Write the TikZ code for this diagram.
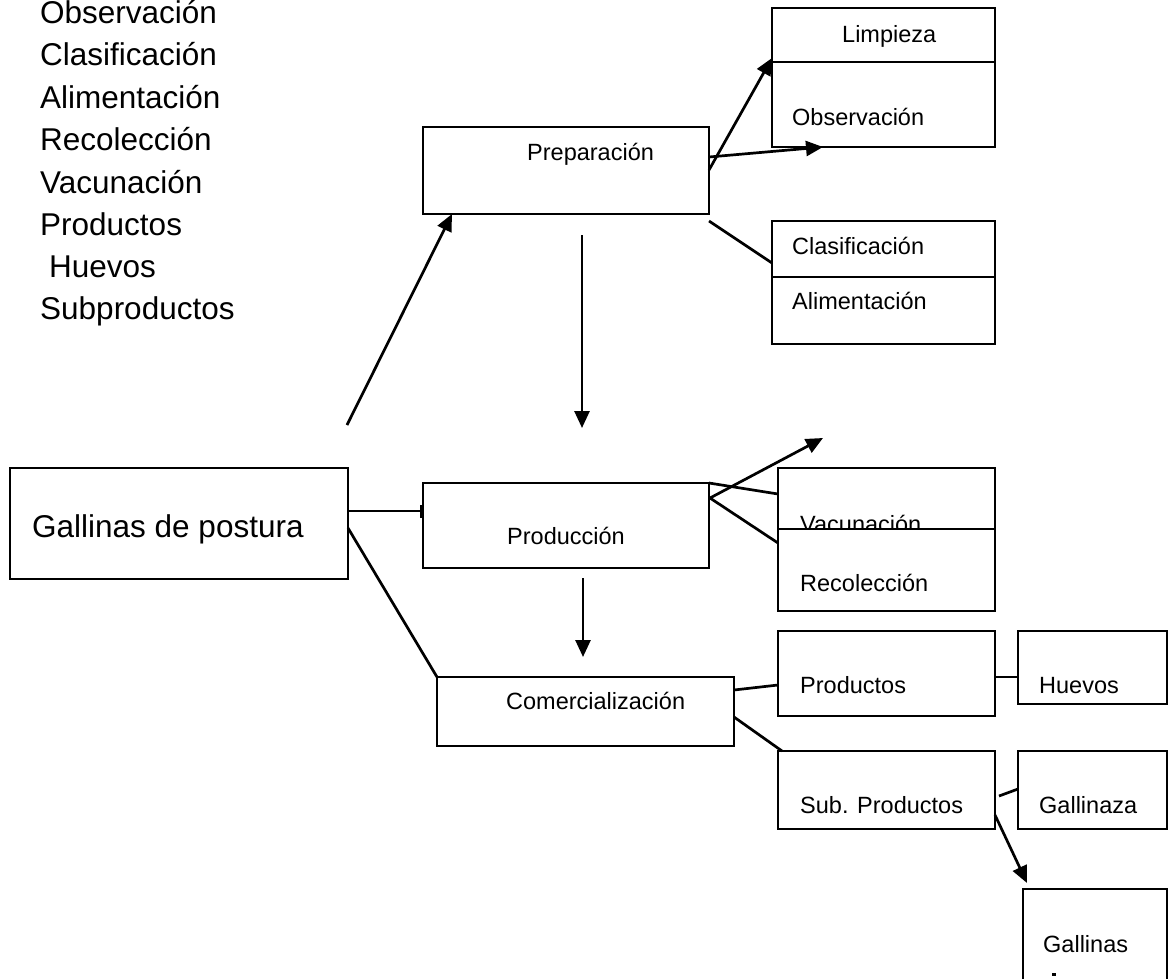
\documentclass[tikz,border=0pt]{standalone}
\usepackage{fontspec}
\setmainfont{Liberation Sans}
\usetikzlibrary{arrows.meta}
\begin{document}
\begin{tikzpicture}[x=1pt,y=-1pt,
  boxn/.style={draw, line width=2pt, inner sep=0, outer sep=0, anchor=north west, fill=white},
  txt/.style={font=\fontsize{23.5}{28}\selectfont, inner sep=0, anchor=base west},
  bigtxt/.style={font=\fontsize{31.5}{38}\selectfont, inner sep=0, anchor=base west},
  conn/.style={line width=2.7pt},
  arr/.style={line width=2.7pt, -{Triangle[length=17pt,width=15pt]}},
  bararr/.style={line width=2.7pt, -{Bar[width=13pt,line width=3.5pt]}}]
\useasboundingbox (0,0) rectangle (1169,978);
% left list
\node[bigtxt] (l1) at (40,23) {Observación};
\node[bigtxt] (l2) at (40,65) {Clasificación};
\node[bigtxt] (l3) at (40,108) {Alimentación};
\node[bigtxt] (l4) at (40,150) {Recolección};
\node[bigtxt] (l5) at (40,193) {Vacunación};
\node[bigtxt] (l6) at (40,235) {Productos};
\node[bigtxt] (l7) at (49,277) {Huevos};
\node[bigtxt] (l8) at (40,319) {Subproductos};
% boxes
\node[boxn, minimum width=338pt, minimum height=111pt] (gall) at (10,468) {};
\node[bigtxt] (tgall) at (32,537) {Gallinas de postura};
\node[boxn, minimum width=286pt, minimum height=87pt] (prep) at (423,127) {};
\node[txt] (tprep) at (527,160) {Preparación};
\node[boxn, minimum width=223pt, minimum height=54pt] (limp) at (772,8) {};
\node[txt] (tlimp) at (842,42) {Limpieza};
\node[boxn, minimum width=223pt, minimum height=85pt] (obs) at (772,62) {};
\node[txt] (tobs) at (792,125) {Observación};
\node[boxn, minimum width=223pt, minimum height=56pt] (clas) at (772,221) {};
\node[txt] (tclas) at (792,254) {Clasificación};
\node[boxn, minimum width=223pt, minimum height=67pt] (alim) at (772,277) {};
\node[txt] (talim) at (792,309) {Alimentación};
\node[boxn, minimum width=286pt, minimum height=85pt] (prod) at (423,483) {};
\node[txt] (tprod) at (507,544) {Producción};
\node[boxn, minimum width=217pt, minimum height=61pt] (vac) at (778,468) {};
\node[txt] (tvac) at (800,532) {Vacunación};
\node[boxn, minimum width=217pt, minimum height=82pt] (rec) at (778,529) {};
\node[txt] (trec) at (800,591) {Recolección};
\node[boxn, minimum width=297pt, minimum height=69pt] (com) at (437,677) {};
\node[txt] (tcom) at (506,709) {Comercialización};
\node[boxn, minimum width=217pt, minimum height=85pt] (prods) at (778,631) {};
\node[txt] (tprods) at (800,693) {Productos};
\node[boxn, minimum width=149pt, minimum height=73pt] (huev) at (1018,631) {};
\node[txt] (thuev) at (1039,693) {Huevos};
\node[boxn, minimum width=217pt, minimum height=78pt] (sub) at (778,751) {};
\node[txt] (tsub) at (800,813) {Sub. Productos};
\node[boxn, minimum width=149pt, minimum height=78pt] (gaza) at (1018,751) {};
\node[txt] (tgaza) at (1039,813) {Gallinaza};
\node[boxn, minimum width=144pt, minimum height=110pt] (gvie) at (1023,889) {};
\node[txt] (tgvie) at (1043,952) {Gallinas};
\fill (1052,972.5) rectangle (1055.5,976);
% connectors
\coordinate (gstart) at (347,425);
\draw[arr] (gstart) -- ([xshift=29pt]prep.south west);
\draw[bararr] ([yshift=-43pt]gall.north east) -- ([yshift=-28pt]prod.north west);
\draw[conn] ([yshift=-60pt]gall.north east) -- (com.north west);
\draw[arr] ([xshift=16pt,yshift=-21pt]prep.south) -- ([xshift=16pt,yshift=55pt]prod.north);
\draw[arr] ([yshift=-43pt]prep.north east) -- ([yshift=4pt]limp.south west);
\draw[arr] ([yshift=-30pt]prep.north east) -- ([xshift=51pt]obs.south west);
\draw[conn] ([yshift=-7pt]prep.south east) -- ([yshift=-42pt]clas.north west);
\draw[conn] (prod.north east) -- ([yshift=-26pt]vac.north west);
\draw[arr] ([xshift=1pt,yshift=-15pt]prod.north east) -- ([xshift=45pt,yshift=30pt]vac.north west);
\draw[conn] ([xshift=1pt,yshift=-15pt]prod.north east) -- ([yshift=-14pt]rec.north west);
\draw[arr] ([xshift=17pt,yshift=-10pt]prod.south) -- ([xshift=146pt,yshift=20pt]com.north west);
\draw[conn] ([yshift=-13pt]com.north east) -- ([yshift=-54pt]prods.north west);
\draw[conn] ([yshift=-40pt]com.north east) -- ([xshift=4pt]sub.north west);
\draw[conn] ([yshift=-46pt]prods.north east) -- ([yshift=-46pt]huev.north west);
\draw[conn] ([xshift=4pt,yshift=-45pt]sub.north east) -- ([yshift=-38pt]gaza.north west);
\draw[arr] ([yshift=-64pt]sub.north east) -- ([xshift=4pt,yshift=6pt]gvie.north west);
\end{tikzpicture}
\end{document}
